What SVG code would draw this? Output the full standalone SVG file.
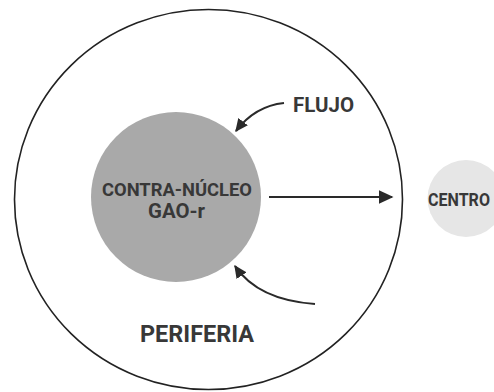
<svg xmlns="http://www.w3.org/2000/svg" width="494" height="392" viewBox="0 0 494 392">
<style>
.lbl{font-family:Roboto,"Liberation Sans",sans-serif;fill:#383838;font-weight:bold}
.arr{fill:none;stroke:#2a2a2a;stroke-width:2.2}
</style>
<defs>
<marker id="ah2" viewBox="0 0 10 10" refX="9" refY="5" markerWidth="13" markerHeight="12" markerUnits="userSpaceOnUse" orient="auto" preserveAspectRatio="none">
<path d="M0,0 L10,5 L0,10 Z" fill="#2a2a2a"/>
</marker>
<marker id="ah3" viewBox="0 0 10 10" refX="9" refY="5" markerWidth="15" markerHeight="14" markerUnits="userSpaceOnUse" orient="auto" preserveAspectRatio="none">
<path d="M0,0 L10,5 L0,10 Z" fill="#2a2a2a"/>
</marker>
</defs>
<rect width="494" height="392" fill="#fff"/>
<g id="periferia">
<ellipse cx="208.5" cy="199.5" rx="194" ry="190" fill="none" stroke="#222" stroke-width="1.6"/>
<text class="lbl" x="197" y="342" text-anchor="middle" font-size="24" textLength="114" lengthAdjust="spacingAndGlyphs">PERIFERIA</text>
</g>
<g id="centro">
<circle cx="466" cy="198.5" r="38.5" fill="#e6e6e6"/>
<text class="lbl" x="459" y="206" text-anchor="middle" font-size="18" textLength="62" lengthAdjust="spacingAndGlyphs">CENTRO</text>
</g>
<g id="contranucleo">
<circle cx="176" cy="197" r="85" fill="#a9a9a9"/>
<text class="lbl" x="177" y="196" text-anchor="middle" font-size="18" textLength="150" lengthAdjust="spacingAndGlyphs">CONTRA-NÚCLEO</text>
<text class="lbl" x="176.5" y="218" text-anchor="middle" font-size="21" textLength="57" lengthAdjust="spacingAndGlyphs">GAO-r</text>
</g>
<g id="flujo-label">
<text class="lbl" x="293" y="112" font-size="20" textLength="61" lengthAdjust="spacingAndGlyphs">FLUJO</text>
</g>
<g id="connectors">
<path class="arr" d="M269,197 L392,197" marker-end="url(#ah3)"/>
<path class="arr" d="M284,103 Q255,106 236,131" marker-end="url(#ah2)"/>
<path class="arr" d="M315,304 Q258,300 235,266" marker-end="url(#ah2)"/>
</g>
</svg>
